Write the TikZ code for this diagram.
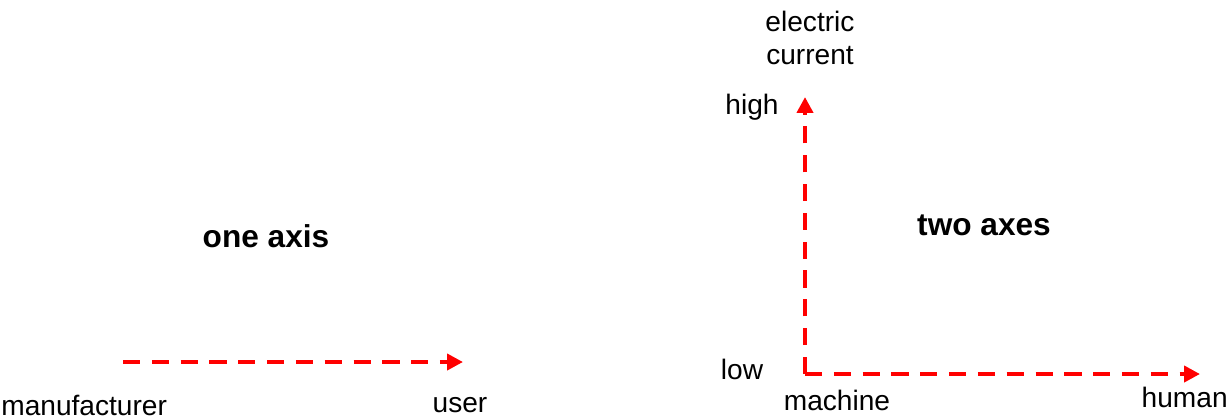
\documentclass[tikz,border=0pt]{standalone}
\usepackage{fontspec}
\setmainfont{Liberation Sans}
\usetikzlibrary{arrows.meta}
\tikzset{
  >={Triangle[length=9pt,width=9pt]},
}
\tikzstyle{axis}=[red,line width=2.4pt,dash pattern=on 9.8pt off 6.6pt,->]
\tikzstyle{every node}=[font=\fontsize{16}{19.2}\selectfont,inner sep=0pt]
\tikzstyle{title}=[font=\fontsize{18}{21.6}\selectfont\bfseries]

\begin{document}
\begin{tikzpicture}[x=0.02cm,y=-0.02cm]
  \useasboundingbox (0,0) rectangle (1230,417);
  % one axis
  \coordinate (mstart) at (123,362);
  \coordinate (mend) at (463,362);
  \draw[axis] (mstart)--(mend);
  \node[anchor=west] (manufacturer) at (1,405) {manufacturer};
  \node (user) at (460,405) {user};
  \node[title] (one) at (266,236) {one axis};
  % two axes
  \coordinate (origin) at (805,374);
  \coordinate (ytop) at (805,97);
  \coordinate (xend) at (1200,374);
  \draw[axis] (origin)--(ytop);
  \draw[axis] (origin)--(xend);
  \node[align=center] (current) at (810,38) {electric\\current};
  \node (high) at (752,107) {high};
  \node (low) at (742,369) {low};
  \node (machine) at (837,400) {machine};
  \node[anchor=east] (human) at (1228,397) {human};
  \node[title] (two) at (984,225) {two axes};
\end{tikzpicture}
\end{document}
